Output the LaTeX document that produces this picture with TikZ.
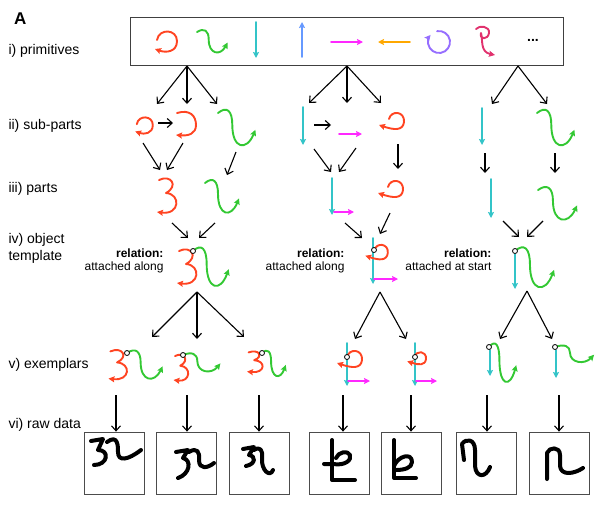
\documentclass[tikz,border=0pt]{standalone}
\usepackage{fontspec}
\setmainfont{Liberation Sans}
\usepackage{xcolor}
\usetikzlibrary{positioning,arrows.meta}

\definecolor{redS}{RGB}{255,68,34}
\definecolor{greenS}{RGB}{51,200,51}
\definecolor{cyanS}{RGB}{51,196,200}
\definecolor{blueS}{RGB}{102,153,255}
\definecolor{magS}{RGB}{255,40,255}
\definecolor{orangeS}{RGB}{255,168,0}
\definecolor{purpS}{RGB}{150,110,255}
\definecolor{pinkS}{RGB}{225,50,110}

\tikzset{
  arr/.style={-{Straight Barb[length=5pt,width=9pt]}, line width=1.1pt},
  stroke/.style={line width=1.9pt, line cap=round, line join=round, -{Stealth[length=6pt,width=6pt,inset=1pt]}},
  ink/.style={line width=4pt, line cap=round, line join=round},
  att/.style={circle, draw, fill=white, inner sep=0pt, minimum size=5pt, line width=.8pt},
  lvl/.style={anchor=base west, font=\fontsize{14}{17}\selectfont},
  relhead/.style={anchor=base east, font=\fontsize{12}{13}\selectfont\bfseries},
  reltxt/.style={anchor=base east, font=\fontsize{12}{13}\selectfont},
  rawbox/.style={draw=black!70, line width=.8pt, minimum width=60pt, minimum height=62pt},
  pics/loopA/.style={code={\draw[stroke, redS] (-9,-1) .. controls (-7,-13) and (11,-12) .. (11,0) .. controls (11,11) and (0,12) .. (-11,8);}},
  pics/loopB/.style={code={\draw[stroke, redS] (-3,-3) .. controls (-1,-12) and (13,-11) .. (12,0) .. controls (11,9) and (2,8) .. (-13,3);}},
  pics/hook/.style={code={\draw[stroke, redS] (-9,-11) .. controls (4,-15) and (10,-8) .. (10,1) .. controls (10,10) and (2,12) .. (-10,11);}},
  pics/three/.style={code={\draw[stroke, redS] (-8,-16) .. controls (4,-22) and (12,-10) .. (-1,-3) .. controls (14,-2) and (13,19) .. (-10,16);}},
  pics/squig/.style={code={\draw[stroke, greenS] (0,0) .. controls (8,-6) and (13,-2) .. (13,10) .. controls (13,30) and (26,32) .. (34,14);}}
}

\begin{document}
\begin{tikzpicture}[x=1pt, y=-1pt]
  \useasboundingbox (0,0) rectangle (615,517);

  % level labels
  \node[anchor=base west, inner sep=0pt, font=\bfseries\fontsize{17}{17}\selectfont] (panel) at (14,24) {A};
  \node[lvl] (lprim) at (5,54) {i) primitives};
  \node[lvl] (lsub) at (5,129) {ii) sub-parts};
  \node[lvl] (lpart) at (5,192) {iii) parts};
  \node[lvl] (lobj) at (5,243) {iv) object};
  \node[lvl] (ltmpl) at (5,260) {template};
  \node[lvl] (lex) at (5,368) {v) exemplars};
  \node[lvl] (lraw) at (5,428) {vi) raw data};

  % primitives
  \node[draw=black!75, line width=1pt, minimum width=433pt, minimum height=48pt] (prims) at (346.5,41) {};
  \pic at (166,41) {loopA};
  \pic[xscale=.9, yscale=.75] at (197,32) {squig};
  \draw[stroke, cyanS] (256,22) -- (256,58);
  \draw[stroke, blueS] (302,57) -- (302,22);
  \draw[stroke, magS] (331,42) -- (363,42);
  \draw[stroke, orangeS] (410,42) -- (378,42);
  \draw[stroke, purpS] (439,42) ++(260:11) arc[start angle=260, end angle=580, radius=11];
  \draw[stroke, pinkS] (476,29) .. controls (479,25) and (490,26) .. (489,33) .. controls (488,40) and (479,40) .. (481,33) .. controls (483,40) and (480,52) .. (495,55);
  \node[font=\bfseries\fontsize{14}{14}\selectfont] (more) at (533,40) {...};

  % column 1
  \pic[scale=.8] at (144,125) {loopA};
  \pic at (186,124) {hook};
  \pic[xscale=1.1, yscale=1.2] at (218,113) {squig};
  \pic at (167,196) {three};
  \pic[yscale=1.1] at (205,183) {squig};
  \pic at (187,267) {three};
  \pic[xscale=1.05, yscale=1.3] at (193,251) {squig};
  \node[att] (c1) at (193,251) {};
  \node[relhead] (rel1) at (167,257) {relation:};
  \node[reltxt] (kind1) at (167,270) {attached along};
  \pic[xscale=.95, yscale=.85] at (118,365) {three};
  \pic[xscale=1.05, yscale=.95] at (127,353) {squig};
  \node[att] (c1a) at (127,353) {};
  \pic[scale=.75] at (181,368) {three};
  \pic[xscale=1.1, yscale=.6] at (183,355) {squig};
  \node[att] (c1b) at (183,355) {};
  \pic[xscale=.8, yscale=.6] at (255,362) {three};
  \pic[xscale=.7, yscale=.85] at (262,353) {squig};
  \node[att] (c1c) at (262,353) {};

  % column 2
  \draw[stroke, cyanS] (303,107) -- (303,145);
  \draw[stroke, magS] (339,134) -- (362,134);
  \pic at (392,122) {loopB};
  \draw[stroke, cyanS] (332,178) -- (332,215);
  \draw[stroke, magS] (334,212) -- (354,212);
  \pic at (391,190) {loopB};
  \draw[stroke, cyanS] (373,238) -- (373,284);
  \pic[scale=.9] at (377,253) {loopB};
  \draw[stroke, magS] (374,279) -- (398,279);
  \node[att] (c2) at (374,250) {};
  \node[relhead] (rel2) at (348,257) {relation:};
  \node[reltxt] (kind2) at (348,270) {attached along};
  \draw[stroke, cyanS] (347,343) -- (347,386);
  \pic at (350,360) {loopB};
  \draw[stroke, magS] (348,381) -- (370,381);
  \node[att] (c2a) at (347,357) {};
  \draw[stroke, cyanS] (415,343) -- (415,386);
  \pic[scale=.75] at (417,359) {loopB};
  \draw[stroke, magS] (416,381) -- (437,381);
  \node[att] (c2b) at (415,357) {};

  % column 3
  \draw[stroke, cyanS] (482,108) -- (482,145);
  \pic[xscale=1.1, yscale=1.2] at (537,113) {squig};
  \draw[stroke, cyanS] (491,179) -- (491,218);
  \pic[xscale=1.15, yscale=1.1] at (538,190) {squig};
  \draw[stroke, cyanS] (515,254) -- (515,289);
  \pic[xscale=1.15, yscale=1.35] at (515,251) {squig};
  \node[att] (c3) at (515,251) {};
  \node[relhead] (rel3) at (495,257) {relation:};
  \node[reltxt] (kind3) at (495,270) {attached at start};
  \draw[stroke, cyanS] (490,350) -- (490,376);
  \pic[xscale=.8, yscale=1.3] at (489,347) {squig};
  \node[att] (c3a) at (489,347) {};
  \draw[stroke, cyanS] (556,350) -- (556,378);
  \pic[xscale=1.15, yscale=.55] at (555,347) {squig};
  \node[att] (c3b) at (555,347) {};

  % raw data
  \foreach \n/\x in {1/114, 2/186, 3/259, 4/339, 5/411, 6/486, 7/559}
    \node[rawbox] (r\n) at (\x,463) {};
  \draw[ink] (91,441) -- (103,439) -- (98,450) .. controls (110,450) and (108,465) .. (94,465);
  \draw[ink] (107,442) .. controls (118,434) and (118,446) .. (118,452) .. controls (118,462) and (128,460) .. (141,450);
  \draw[ink] (176,452) -- (188,450) -- (183,458) .. controls (192,460) and (190,474) .. (178,478);
  \draw[ink] (189,452) .. controls (197,447) and (200,452) .. (199,460) .. controls (199,470) and (208,468) .. (214,463);
  \draw[ink] (243,449) -- (254,447) -- (249,455) .. controls (256,456) and (256,464) .. (246,466);
  \draw[ink] (254,450) .. controls (260,446) and (263,450) .. (262,458) .. controls (261,470) and (270,478) .. (273,470);
  \draw[ink] (332,440) -- (332,480) -- (355,480);
  \draw[ink] (324,464) -- (333,464) .. controls (345,466) and (352,460) .. (350,455) .. controls (348,450) and (338,452) .. (336,458);
  \draw[ink] (394,440) -- (394,478) -- (416,478);
  \draw[ink] (394,466) .. controls (398,456) and (412,452) .. (412,462) .. controls (412,468) and (404,470) .. (396,470);
  \draw[ink] (464,460) -- (462,444) .. controls (466,438) and (475,439) .. (475,450) -- (475,466) .. controls (476,478) and (486,478) .. (490,467);
  \draw[ink] (547,479) -- (547,453) .. controls (549,447) and (560,446) .. (560,455) -- (560,466) .. controls (561,476) and (574,474) .. (583,468);

  % arrow ends
  \foreach \n/\x/\y in {p1/187/66, t1a/157/104, t1b/187/104, t1c/217/104, h1a/158/123, h1b/173/123,
      u1a/143/143, v1a/160/170, u1b/183/143, v1b/167/170, u1c/236/152, v1c/227/175,
      w1a/172/223, x1a/188/238, w1b/215/223, x1b/199/238, q1/197/292, e1a/152/337, e1b/197/339, e1c/244/337,
      p2/347/66, t2a/309/103, t2b/347/103, t2c/381/103, h2a/314/125, h2b/331/125,
      u2a/314/149, v2a/331/172, u2b/356/148, v2b/339/172, u2c/398/144, v2c/398/169,
      w2a/345/223, x2a/362/238, w2b/390/213, x2b/380/234, q2/380/292, e2a/355/339, e2b/406/339,
      p3/518/66, t3a/492/104, t3b/547/104, u3a/485/153, v3a/485/173, u3b/555/153, v3b/555/173,
      w3a/503/221, x3a/519/237, w3b/543/221, x3b/527/237, q3/527/291, e3a/500/339, e3b/552/339,
      d1/116/395, d2/187/395, d3/259/395, d4/343/395, d5/411/395, d6/487/395, d7/559/395}
    \coordinate (\n) at (\x,\y);

  \foreach \s/\t in {p1/t1a, p1/t1b, p1/t1c, h1a/h1b, u1a/v1a, u1b/v1b, u1c/v1c, w1a/x1a, w1b/x1b,
      q1/e1a, q1/e1b, q1/e1c, p2/t2a, p2/t2b, p2/t2c, h2a/h2b, u2a/v2a, u2b/v2b, u2c/v2c,
      w2a/x2a, w2b/x2b, q2/e2a, q2/e2b, p3/t3a, p3/t3b, u3a/v3a, u3b/v3b, w3a/x3a, w3b/x3b,
      q3/e3a, q3/e3b}
    \draw[arr] (\s) -- (\t);
  \foreach \n in {1,...,7}
    \draw[arr] (d\n) -- (d\n |- r\n.north);
\end{tikzpicture}
\end{document}
